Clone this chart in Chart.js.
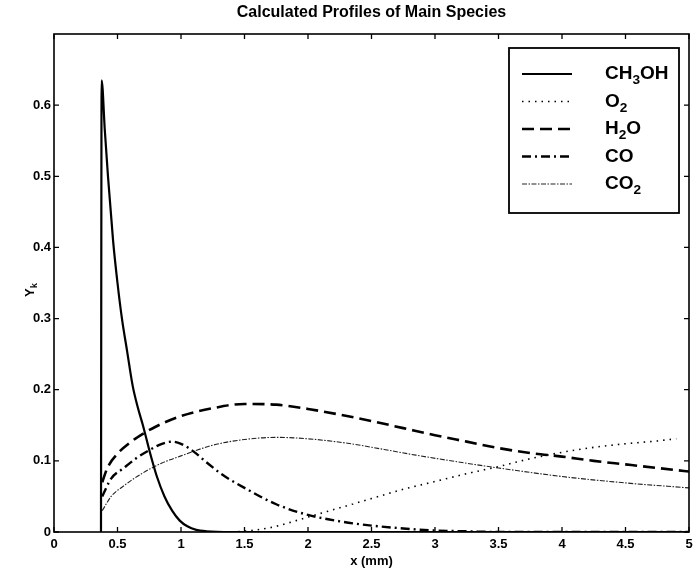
<!DOCTYPE html>
<html>
<head>
<meta charset="utf-8">
<script src="https://cdn.jsdelivr.net/npm/chart.js@4.4.1/dist/chart.umd.min.js"></script>
<style>
  html, body { margin: 0; padding: 0; background: #fff; }
</style>
</head>
<body>
<canvas id="chart" width="693" height="574"></canvas>
<script>
// tick positions and labels
const xTicks = [0, 0.5, 1, 1.5, 2, 2.5, 3, 3.5, 4, 4.5, 5];
const xTickLabels = ["0", "0.5", "1", "1.5", "2", "2.5", "3", "3.5", "4", "4.5", "5"];
const yTicks = [0, 0.1, 0.2, 0.3, 0.4, 0.5, 0.6];
const yTickLabels = ["0", "0.1", "0.2", "0.3", "0.4", "0.5", "0.6"];

const chartTitle = "Calculated Profiles of Main Species";

// series names (_n = subscript)
const seriesNames = ["CH_3OH", "O_2", "H_2O", "CO", "CO_2"];

// CH3OH
const ch3ohX = [0.37, 0.375, 0.40, 0.425, 0.465, 0.50, 0.535, 0.575, 0.62, 0.66, 0.70, 0.755, 0.81, 0.87, 0.93, 0.99, 1.05, 1.12, 1.2, 1.4, 2, 3, 4, 5];
const ch3ohY = [0, 0.635, 0.565, 0.50, 0.41, 0.35, 0.30, 0.255, 0.205, 0.175, 0.15, 0.112, 0.078, 0.05, 0.03, 0.016, 0.008, 0.003, 0.001, 0, 0, 0, 0, 0];

// O2
const o2X = [1.4, 1.55, 1.7, 1.85, 2.0, 2.25, 2.5, 2.75, 3.0, 3.25, 3.5, 3.75, 4.0, 4.25, 4.5, 4.75, 4.9];
const o2Y = [0, 0.002, 0.006, 0.013, 0.021, 0.034, 0.047, 0.06, 0.071, 0.082, 0.092, 0.103, 0.112, 0.119, 0.124, 0.128, 0.131];

// H2O
const h2oX = [0.38, 0.42, 0.5, 0.6, 0.7, 0.8, 1.0, 1.25, 1.5, 1.75, 2.0, 2.25, 2.5, 2.75, 3.0, 3.25, 3.5, 3.75, 4.0, 4.25, 4.5, 4.75, 5.0];
const h2oY = [0.07, 0.09, 0.11, 0.126, 0.138, 0.148, 0.163, 0.174, 0.18, 0.179, 0.173, 0.165, 0.156, 0.146, 0.136, 0.127, 0.118, 0.111, 0.106, 0.1, 0.095, 0.09, 0.085];

// CO
const coX = [0.38, 0.45, 0.55, 0.65, 0.75, 0.85, 0.93, 1.0, 1.1, 1.2, 1.33, 1.5, 1.75, 2.0, 2.25, 2.5, 2.75, 3.0, 3.25, 3.5, 4.0, 4.5, 5.0];
const coY = [0.05, 0.075, 0.09, 0.104, 0.115, 0.124, 0.127, 0.124, 0.113, 0.098, 0.08, 0.062, 0.039, 0.024, 0.015, 0.009, 0.005, 0.002, 0.001, 0, 0, 0, 0];

// CO2
const co2X = [0.38, 0.45, 0.55, 0.7, 0.85, 1.0, 1.25, 1.5, 1.75, 2.0, 2.3, 2.6, 2.85, 3.2, 3.5, 4.0, 4.5, 5.0];
const co2Y = [0.03, 0.05, 0.065, 0.083, 0.097, 0.107, 0.122, 0.13, 0.133, 0.131, 0.125, 0.116, 0.108, 0.098, 0.09, 0.078, 0.069, 0.062];

const FONT = '"Liberation Sans", Arial, Helvetica, sans-serif';
Chart.defaults.font.family = FONT;
Chart.defaults.color = "#000";

const pts = (xs, ys) => xs.map((v, i) => ({ x: v, y: ys[i] }));

function series(i, xs, ys, width, dash, color) {
  return {
    label: seriesNames[i],
    data: pts(xs, ys),
    borderColor: color || "#000",
    borderWidth: width,
    borderDash: dash,
    pointRadius: 0,
    fill: false,
    cubicInterpolationMode: "monotone",
  };
}

// text with _n subscripts
function drawSubText(ctx, label, x, y, size) {
  const parts = label.split(/_(\d|k)/);
  parts.forEach((p, i) => {
    const sub = i % 2 === 1;
    ctx.font = "bold " + (sub ? size * 0.72 : size) + "px " + FONT;
    ctx.fillText(p, x, sub ? y + size * 0.35 : y);
    x += ctx.measureText(p).width;
  });
}

// matlab style box, inward ticks, title, legend and y label
const matlabFrame = {
  id: "matlabFrame",
  afterDatasetsDraw(chart) {
    const { ctx, chartArea: a, scales } = chart;
    const xs = scales.x, ys = scales.y;
    ctx.save();
    ctx.strokeStyle = "#000";
    ctx.setLineDash([]);
    ctx.lineWidth = 1.6;
    ctx.strokeRect(a.left, a.top, a.right - a.left, a.bottom - a.top);

    const tl = 5;
    ctx.lineWidth = 1.3;
    ctx.beginPath();
    xs.ticks.forEach(t => {
      const px = xs.getPixelForValue(t.value);
      ctx.moveTo(px, a.bottom); ctx.lineTo(px, a.bottom - tl);
      ctx.moveTo(px, a.top); ctx.lineTo(px, a.top + tl);
    });
    ys.ticks.forEach(t => {
      const py = ys.getPixelForValue(t.value);
      ctx.moveTo(a.left, py); ctx.lineTo(a.left + tl, py);
      ctx.moveTo(a.right, py); ctx.lineTo(a.right - tl, py);
    });
    ctx.stroke();

    ctx.fillStyle = "#000";
    ctx.textBaseline = "middle";

    // title, centred over the plot box
    ctx.textAlign = "center";
    ctx.font = "bold 16px " + FONT;
    ctx.fillText(chartTitle, (a.left + a.right) / 2, 13);

    // y label
    ctx.textAlign = "left";
    ctx.save();
    ctx.translate(30, (a.top + a.bottom) / 2 + 8);
    ctx.rotate(-Math.PI / 2);
    drawSubText(ctx, "Y_k", -6, 0, 13);
    ctx.restore();

    // legend
    const lx = a.right - 180, ly = a.top + 14, lw = 170, lh = 165;
    ctx.fillStyle = "#fff";
    ctx.fillRect(lx, ly, lw, lh);
    ctx.lineWidth = 1.8;
    ctx.strokeRect(lx, ly, lw, lh);
    ctx.fillStyle = "#000";
    chart.data.datasets.forEach((ds, i) => {
      const ry = ly + 26 + i * 27.5;
      ctx.save();
      ctx.strokeStyle = ds.borderColor;
      ctx.lineWidth = ds.borderWidth;
      ctx.setLineDash(ds.borderDash || []);
      ctx.beginPath();
      ctx.moveTo(lx + 13, ry);
      ctx.lineTo(lx + 63, ry);
      ctx.stroke();
      ctx.restore();
      drawSubText(ctx, ds.label, lx + 96, ry, 19);
    });
    ctx.restore();
  }
};

new Chart(document.getElementById("chart"), {
  type: "line",
  data: {
    datasets: [
      series(0, ch3ohX, ch3ohY, 2.2, []),
      series(1, o2X, o2Y, 1.6, [1.5, 5]),
      series(2, h2oX, h2oY, 2.6, [12, 6]),
      series(3, coX, coY, 2.4, [9, 4, 2, 4]),
      series(4, co2X, co2Y, 1.1, [5, 1.5, 1.5, 1.5], "#222"),
    ],
  },
  options: {
    responsive: false,
    animation: false,
    layout: { padding: { left: 0, right: 4, top: 34, bottom: 0 } },
    plugins: {
      legend: { display: false },
      tooltip: { enabled: false },
      title: { display: false },
    },
    scales: {
      x: {
        type: "linear",
        min: 0,
        max: 5,
        afterBuildTicks: s => { s.ticks = xTicks.map(v => ({ value: v })); },
        afterFit: s => { s.height = 42; s.paddingRight = 0; },
        grid: { display: false, drawTicks: false },
        border: { display: false },
        ticks: {
          font: { size: 13, weight: "bold" },
          padding: 5,
          maxRotation: 0,
          callback: (v, i) => xTickLabels[i],
        },
        title: {
          display: true,
          text: "x (mm)",
          font: { size: 13, weight: "bold" },
          padding: { top: 0, bottom: 5 },
        },
      },
      y: {
        type: "linear",
        min: 0,
        max: 0.7,
        afterBuildTicks: s => { s.ticks = yTicks.map(v => ({ value: v })); },
        afterFit: s => { s.width = 54; },
        grid: { display: false, drawTicks: false },
        border: { display: false },
        ticks: {
          font: { size: 13, weight: "bold" },
          padding: 3,
          callback: (v, i) => yTickLabels[i],
        },
      },
    },
  },
  plugins: [matlabFrame],
});
</script>
</body>
</html>
